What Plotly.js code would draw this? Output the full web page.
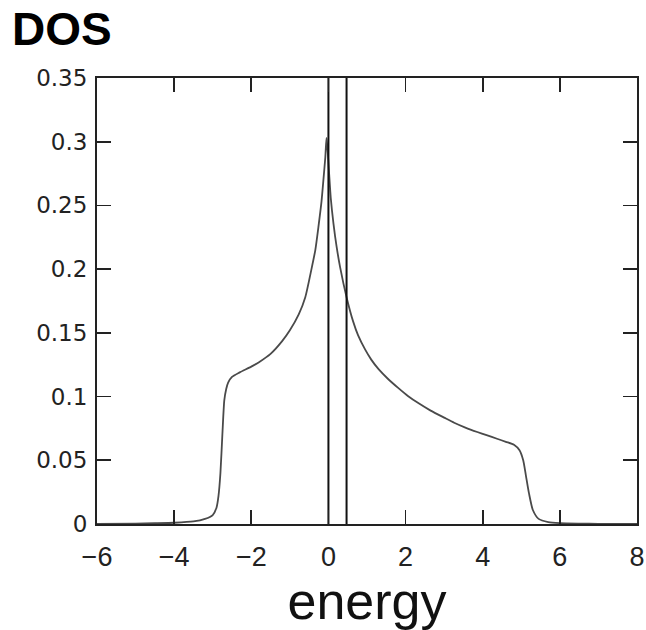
<!DOCTYPE html>
<html>
<head>
<meta charset="utf-8">
<script src="https://cdn.plot.ly/plotly-3.0.1.min.js"></script>
<style>html,body{margin:0;padding:0;background:#fff;}#chart{width:646px;height:630px;}</style>
</head>
<body>
<div id="chart"></div>
<script>
// Data
const energy = [-6, -5, -4.5, -4, -3.5, -3.2, -3.0, -2.9, -2.85, -2.8, -2.75, -2.7, -2.65, -2.6, -2.5, -2.3, -2.0, -1.8, -1.5, -1.2, -1.0, -0.77, -0.6, -0.44, -0.34, -0.26, -0.18, -0.13, -0.08, -0.05, -0.02, 0.02, 0.06, 0.13, 0.21, 0.3, 0.47, 0.64, 0.77, 0.95, 1.11, 1.3, 1.54, 1.8, 2.06, 2.35, 2.65, 3.0, 3.26, 3.55, 3.86, 4.1, 4.37, 4.6, 4.81, 4.95, 5.05, 5.12, 5.2, 5.3, 5.45, 5.7, 6, 6.5, 7, 8];
const dos = [0.0, 0.0003, 0.0006, 0.001, 0.002, 0.004, 0.007, 0.013, 0.022, 0.04, 0.07, 0.097, 0.106, 0.111, 0.1155, 0.119, 0.1235, 0.127, 0.1335, 0.1435, 0.152, 0.1645, 0.178, 0.200, 0.215, 0.233, 0.253, 0.270, 0.288, 0.303, 0.293, 0.274, 0.256, 0.236, 0.218, 0.202, 0.178, 0.159, 0.148, 0.137, 0.129, 0.1215, 0.114, 0.107, 0.1005, 0.0945, 0.089, 0.0835, 0.0795, 0.0757, 0.0722, 0.0697, 0.0669, 0.0645, 0.0622, 0.058, 0.050, 0.038, 0.024, 0.011, 0.004, 0.0015, 0.0007, 0.0003, 0.0001, 0.0];
const markerEnergies = [0.0, 0.47];
const yRange = [0, 0.35];
const xRange = [-6, 8];

const traces = [{
  x: energy, y: dos, type: 'scatter', mode: 'lines',
  line: {color: '#4a4a4a', width: 1.8, shape: 'spline', smoothing: 0.6},
  hoverinfo: 'x+y', showlegend: false
}];
markerEnergies.forEach(e => {
  traces.push({
    x: [e, e], y: yRange, type: 'scatter', mode: 'lines',
    line: {color: '#111', width: 2}, showlegend: false, hoverinfo: 'x'
  });
});

const layout = {
  width: 646, height: 630,
  margin: {l: 97, r: 9, t: 78, b: 106},
  paper_bgcolor: '#fff', plot_bgcolor: '#fff',
  showlegend: false,
  title: {
    text: 'DOS',
    font: {family: 'Liberation Sans, Arial, sans-serif', size: 46, color: '#000', weight: 'bold'},
    xref: 'container', x: 12/646, xanchor: 'left',
    yref: 'container', y: 1 - 13/630, yanchor: 'top'
  },
  xaxis: {
    range: xRange, dtick: 2, tick0: -6,
    showgrid: false, zeroline: false,
    showline: true, linecolor: '#222', linewidth: 2, mirror: 'ticks',
    ticks: 'inside', ticklen: 14, tickwidth: 1.6, tickcolor: '#222',
    ticklabelstandoff: 8, ticklabeloverflow: 'allow',
    tickfont: {family: 'Liberation Sans, Arial, sans-serif', size: 27, color: '#222'},
    title: {text: 'energy', standoff: 16,
      font: {family: 'Liberation Sans Narrow, Arial Narrow, Liberation Sans, sans-serif', size: 52, color: '#111'}}
  },
  yaxis: {
    range: yRange, dtick: 0.05, tick0: 0,
    showgrid: false, zeroline: false,
    showline: true, linecolor: '#222', linewidth: 2, mirror: 'ticks',
    ticks: 'inside', ticklen: 14, tickwidth: 1.6, tickcolor: '#222',
    ticklabelstandoff: 3,
    tickfont: {family: 'DejaVu Sans, sans-serif', size: 23, color: '#222'}
  }
};

Plotly.newPlot('chart', traces, layout, {displayModeBar: false, staticPlot: true});
</script>
</body>
</html>
